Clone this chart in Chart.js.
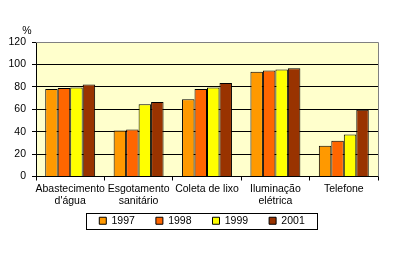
<!DOCTYPE html>
<html>
<head>
<meta charset="utf-8">
<script src="https://cdn.jsdelivr.net/npm/chart.js@4"></script>
<style>
  html, body { margin: 0; padding: 0; background: #ffffff; }
  #wrap { width: 400px; height: 260px; }
</style>
</head>
<body>
<div id="wrap"><canvas id="chart" width="400" height="260"></canvas></div>
<script>
// Dados do gráfico
const categorias = [
    ['Abastecimento', "d'água"],
    ['Esgotamento', 'sanitário'],
    'Coleta de lixo',
    ['Iluminação', 'elétrica'],
    'Telefone'
];
const anos = ['1997', '1998', '1999', '2001'];
const valores1997 = [78, 41, 69, 93.5, 27.5];
const valores1998 = [79, 42, 78, 94.5, 32];
const valores1999 = [79.5, 64.5, 79.5, 95.5, 37.5];
const valores2001 = [82, 66.5, 83.5, 96.5, 59.5];
const cores = ['#FF9900', '#FF6600', '#FFFF00', '#993300'];
const ticksY = [0, 20, 40, 60, 80, 100, 120];

const fonte = { family: 'Liberation Sans, Arial, sans-serif', size: 10.5 };

// Fundo amarelo e borda cinza da área do gráfico
const fundoPlugin = {
    id: 'fundo',
    afterLayout(chart) {
        // sobe a legenda para ficar logo abaixo dos rótulos e centraliza
        const lg = chart.legend;
        if (lg) {
            lg.top -= 20;
            lg.bottom -= 20;
            lg.left += 13;
            lg.right += 13;
        }
    },
    beforeDraw(chart) {
        const { ctx, chartArea: a } = chart;
        ctx.save();
        ctx.fillStyle = '#FFFFCC';
        ctx.fillRect(a.left, a.top, a.right - a.left, a.bottom - a.top);
        ctx.restore();
    },
    afterDraw(chart) {
        const { ctx, chartArea: a } = chart;
        ctx.save();
        ctx.strokeStyle = '#808080';
        ctx.lineWidth = 1;
        ctx.beginPath();
        ctx.moveTo(a.left, a.top + 0.5);
        ctx.lineTo(a.right + 0.5, a.top + 0.5);
        ctx.lineTo(a.right + 0.5, a.bottom);
        ctx.stroke();

        // símbolo de porcentagem acima do eixo
        ctx.fillStyle = '#000';
        ctx.font = '10.5px Liberation Sans, Arial, sans-serif';
        ctx.textAlign = 'center';
        ctx.textBaseline = 'middle';
        ctx.fillText('%', a.left - 9, a.top - 11);

        // moldura da legenda
        const boxes = chart.legend.legendHitBoxes;
        if (boxes && boxes.length) {
            const first = boxes[0];
            const last = boxes[boxes.length - 1];
            const x1 = Math.round(first.left - 13) + 0.5;
            const x2 = Math.round(last.left + last.width + 12) + 0.5;
            const yc = first.top + first.height / 2;
            const y1 = Math.round(yc - 8) + 0.5;
            const y2 = Math.round(yc + 8) + 0.5;
            ctx.strokeStyle = '#000';
            ctx.strokeRect(x1, y1, x2 - x1, y2 - y1);
        }
        ctx.restore();
    }
};

const series = [valores1997, valores1998, valores1999, valores2001];

new Chart(document.getElementById('chart'), {
    type: 'bar',
    data: {
        labels: categorias,
        datasets: anos.map((ano, i) => ({
            label: ano,
            data: series[i],
            backgroundColor: cores[i],
            borderColor: '#000',
            borderWidth: 1,
            categoryPercentage: 0.73,
            barPercentage: 1
        }))
    },
    options: {
        responsive: false,
        animation: false,
        layout: { padding: { top: 42, right: 22, left: 0, bottom: 4 } },
        plugins: {
            tooltip: { enabled: false },
            legend: {
                position: 'bottom',
                labels: {
                    boxWidth: 7,
                    boxHeight: 7,
                    padding: 21,
                    color: '#000',
                    font: fonte
                }
            }
        },
        scales: {
            x: {
                offset: true,
                grid: {
                    offset: true,
                    drawOnChartArea: false,
                    drawTicks: true,
                    tickLength: 4,
                    color: '#000'
                },
                border: { color: '#000' },
                ticks: {
                    color: '#000',
                    font: fonte,
                    padding: 2,
                    maxRotation: 0,
                    autoSkip: false
                },
                afterFit(scale) { scale.height = 38; }
            },
            y: {
                min: 0,
                max: 120,
                afterBuildTicks(scale) {
                    scale.ticks = ticksY.map(v => ({ value: v }));
                },
                grid: {
                    color: ctx => (ctx.tick && ctx.tick.value === 120) ? '#808080' : '#000',
                    tickLength: 4,
                    tickColor: '#000'
                },
                border: { color: '#000' },
                ticks: {
                    color: '#000',
                    font: fonte,
                    padding: 6
                },
                afterFit(scale) { scale.width = 36; }
            }
        }
    },
    plugins: [fundoPlugin]
});
</script>
</body>
</html>
